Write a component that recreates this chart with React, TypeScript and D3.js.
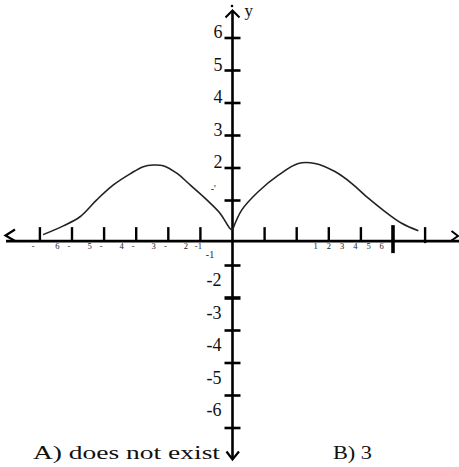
import React from "react";
import * as d3 from "d3";

const W = 459;
const H = 467;

// Curve data (two branches meeting at the cusp at x = 0)
const leftX = [-5.9, -5.27, -4.75, -4.23, -3.71, -3.19, -2.78, -2.47, -2.16, -1.74, -1.32, -0.8, -0.39, -0.08, 0];
const leftY = [-0.05, 0.22, 0.5, 1.02, 1.48, 1.82, 2.04, 2.09, 2.07, 1.84, 1.48, 1.02, 0.61, 0.14, 0.09];
const rightX = [0, 0.29, 0.8, 1.43, 2.05, 2.57, 3.19, 3.71, 4.23, 4.75, 5.27, 5.79];
const rightY = [0.09, 0.71, 1.27, 1.78, 2.14, 2.14, 1.89, 1.53, 1.07, 0.66, 0.3, 0.07];

const xTickValues = [-6, -5, -4, -3, -2, -1, 1, 2, 3, 4, 5, 6];
const yTickValues = [6, 5, 4, 3, 2, 1, -1, -2, -3, -4, -5, -6];
const yPosLabels = ["6", "5", "4", "3", "2"];
const yPosLabelValues = [6, 5, 4, 3, 2];
const yNegLabels = ["-2", "-3", "-4", "-5", "-6"];
const yNegLabelValues = [-2, -3, -4, -5, -6];
const xNegDigits = ["6", "5", "4", "3", "2"];
const xNegDigitValues = [-6, -5, -4, -3, -2];
const xPosDigits = ["1", "2", "3", "4", "5", "6"];
const answerA = "A) does not exist";
const answerB = "B) 3";

const FONT = "'Liberation Serif', 'DejaVu Serif', serif";

export default function App() {
  const x = d3.scaleLinear().domain([-7, 7]).range([232.5 - 7 * 32.1, 232.5 + 7 * 32.1]);
  const y = d3.scaleLinear().domain([-7, 7]).range([233 + 7 * 32.5, 233 - 7 * 32.5]);

  const axisY = y(-0.25);
  const axisX = x(0);

  const line = d3
    .line<[number, number]>()
    .x((d) => x(d[0]))
    .y((d) => y(d[1]))
    .curve(d3.curveCatmullRom.alpha(0.5));

  const leftPts = leftX.map((v, i) => [v, leftY[i]] as [number, number]);
  const rightPts = rightX.map((v, i) => [v, rightY[i]] as [number, number]);

  return (
    <div style={{ position: "absolute", left: 0, top: 0 }}>
      <svg width={W} height={H} style={{ display: "block", background: "#fff" }}>
        {/* x axis */}
        <line x1={6} x2={459} y1={axisY} y2={axisY} stroke="#000" strokeWidth={2.6} />
        <polyline points={`15,229.5 5.5,235.5 15,241`} fill="none" stroke="#000" strokeWidth={2.2} />
        <polyline points={`451.5,231 458,236 451.5,240.5`} fill="none" stroke="#000" strokeWidth={2} />
        {xTickValues.map((v) => (
          <line
            key={"xt" + v}
            x1={x(v)}
            x2={x(v)}
            y1={v === 5 ? axisY - 16 : axisY - 14}
            y2={v === 5 ? axisY + 12 : v === 6 ? axisY + 2 : axisY}
            stroke="#000"
            strokeWidth={v === 5 ? 3.6 : 2.4}
          />
        ))}

        {/* y axis */}
        <line x1={axisX} x2={axisX} y1={11} y2={459} stroke="#000" strokeWidth={2.6} />
        <polyline points={`225.5,17.5 232.5,10.5 239.5,17.5`} fill="none" stroke="#000" strokeWidth={2} />
        <circle cx={232} cy={6} r={1.3} fill="#000" />
        <polyline points={`226.5,451.5 232.5,459.5 239,451.5`} fill="none" stroke="#000" strokeWidth={2.2} />
        {yTickValues.map((v) => (
          <line
            key={"yt" + v}
            x1={axisX - 8}
            x2={axisX + 8}
            y1={y(v)}
            y2={y(v)}
            stroke="#000"
            strokeWidth={v === -2 ? 3.6 : 2.6}
          />
        ))}

        {/* curve */}
        <path d={line(leftPts) || ""} fill="none" stroke="#222" strokeWidth={1.6} />
        <path d={line(rightPts) || ""} fill="none" stroke="#222" strokeWidth={1.6} />

        {/* y labels */}
        <g fontFamily={FONT} fontSize={18} fill="#111">
          {yPosLabels.map((t, i) => (
            <text key={"yp" + t} x={axisX - 10} y={y(yPosLabelValues[i]) - 6} textAnchor="end" dominantBaseline="central">
              {t}
            </text>
          ))}
          {yNegLabels.map((t, i) => (
            <text key={"yn" + t} x={axisX - 11} y={y(yNegLabelValues[i]) - 18} textAnchor="end" dominantBaseline="central">
              {t}
            </text>
          ))}
          <text x={axisX + 12} y={16} fontSize={17}>
            y
          </text>
        </g>
        <g fontFamily={FONT} fontSize={10} fill="#222">
          <text x={x(-0.7)} y={254} textAnchor="middle" dominantBaseline="central">
            -1
          </text>
          <text x={x(-0.6)} y={188} textAnchor="middle" dominantBaseline="central">
            -'
          </text>
        </g>

        {/* x small labels */}
        <g fontFamily={FONT} fontSize={8.5} fill="#222">
          {xNegDigitValues.map((v, i) => (
            <text key={"xm" + v} x={x(v) - (v === -6 ? 6.7 : 3)} y={axisY + 5} textAnchor="middle" dominantBaseline="central">
              -
            </text>
          ))}
          {xNegDigits.map((t, i) => (
            <text key={"xd" + t} x={x(xNegDigitValues[i]) + 17.5} y={axisY + 5} textAnchor="middle" dominantBaseline="central">
              {t}
            </text>
          ))}
          <text x={x(-1) - 2} y={axisY + 4.5} textAnchor="middle" dominantBaseline="central">
            -1
          </text>
          {xPosDigits.map((t, i) => (
            <text key={"xp" + t} x={315.7 + i * 13.2} y={axisY + 4.5} textAnchor="middle" dominantBaseline="central">
              {t}
            </text>
          ))}
        </g>

        {/* answers */}
        <g fontFamily={FONT} fontSize={19} fill="#111">
          <text x={33} y={459} textLength={187} lengthAdjust="spacingAndGlyphs">
            {answerA}
          </text>
          <text x={333} y={459} textLength={39} lengthAdjust="spacingAndGlyphs">
            {answerB}
          </text>
        </g>
      </svg>
    </div>
  );
}
